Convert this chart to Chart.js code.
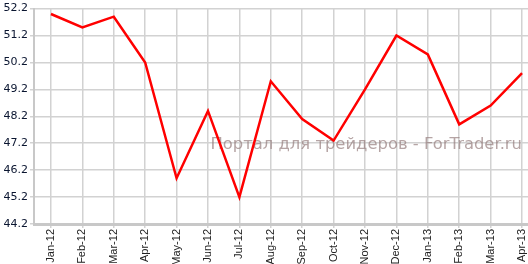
<!DOCTYPE html>
<html lang="en">
<head>
    <meta charset="UTF-8">
    <title>ForTrader chart</title>
    <script src="https://cdn.jsdelivr.net/npm/chart.js"></script>
    <style>
        html, body {
            margin: 0;
            padding: 0;
            background: #fff;
        }
        .wrap {
            width: 528px;
            height: 264px;
            position: relative;
        }
    </style>
</head>
<body>
    <div class="wrap">
        <canvas id="chart" width="528" height="264"></canvas>
    </div>

    <script>
        // data
        const months = ['Jan-12', 'Feb-12', 'Mar-12', 'Apr-12', 'May-12', 'Jun-12', 'Jul-12', 'Aug-12',
                        'Sep-12', 'Oct-12', 'Nov-12', 'Dec-12', 'Jan-13', 'Feb-13', 'Mar-13', 'Apr-13'];
        const values = [52.0, 51.5, 51.9, 50.2, 45.9, 48.4, 45.2, 49.5,
                        48.1, 47.3, 49.2, 51.2, 50.5, 47.9, 48.6, 49.8];
        const yTicks = [44.2, 45.2, 46.2, 47.2, 48.2, 49.2, 50.2, 51.2, 52.2];
        const watermark = 'Портал для трейдеров - ForTrader.ru';

        const gridColor = '#d2d2d2';

        // watermark sits between the grid and the line
        const watermarkPlugin = {
            id: 'watermark',
            beforeDatasetsDraw(chart) {
                const ctx = chart.ctx;
                ctx.save();
                ctx.font = '16.4px "DejaVu Sans", Verdana, sans-serif';
                ctx.fillStyle = 'rgba(150, 125, 125, 0.7)';
                ctx.textAlign = 'right';
                ctx.textBaseline = 'alphabetic';
                ctx.fillText(watermark, chart.chartArea.right - 6, 149);
                ctx.restore();
            }
        };

        new Chart(document.getElementById('chart'), {
            type: 'line',
            data: {
                datasets: [{
                    data: values.map((v, i) => ({ x: i, y: v })),
                    borderColor: '#ff0000',
                    borderWidth: 2.5,
                    tension: 0,
                    pointRadius: 0,
                    fill: false
                }]
            },
            options: {
                responsive: false,
                animation: false,
                layout: {
                    padding: { top: 7, right: 0, left: 0, bottom: 0 }
                },
                plugins: {
                    legend: { display: false },
                    tooltip: { enabled: false }
                },
                scales: {
                    x: {
                        type: 'linear',
                        min: -0.54,
                        max: 15.19,
                        afterBuildTicks: (scale) => {
                            scale.ticks = months.map((m, i) => ({ value: i }));
                        },
                        afterFit: (scale) => {
                            scale.height = 40;
                            scale.paddingLeft = 0;
                            scale.paddingRight = 0;
                        },
                        grid: {
                            color: gridColor,
                            lineWidth: 1.5,
                            tickLength: 4
                        },
                        border: {
                            color: '#c8c8c8',
                            width: 3
                        },
                        ticks: {
                            autoSkip: false,
                            minRotation: 90,
                            maxRotation: 90,
                            padding: 1,
                            color: '#222',
                            font: { family: '"Liberation Sans", Arial, sans-serif', size: 11 },
                            callback: (v) => months[v]
                        }
                    },
                    y: {
                        type: 'linear',
                        min: 44.2,
                        max: 52.2,
                        afterBuildTicks: (scale) => {
                            scale.ticks = yTicks.map(v => ({ value: v }));
                        },
                        afterFit: (scale) => { scale.width = 34; },
                        grid: {
                            color: gridColor,
                            lineWidth: 1.5,
                            tickLength: 4
                        },
                        border: {
                            color: '#c8c8c8',
                            width: 2
                        },
                        ticks: {
                            padding: 2,
                            color: '#0a1530',
                            font: { family: '"DejaVu Sans", Verdana, sans-serif', size: 11 },
                            callback: (v) => v.toFixed(1)
                        }
                    }
                }
            },
            plugins: [watermarkPlugin]
        });
    </script>
</body>
</html>
